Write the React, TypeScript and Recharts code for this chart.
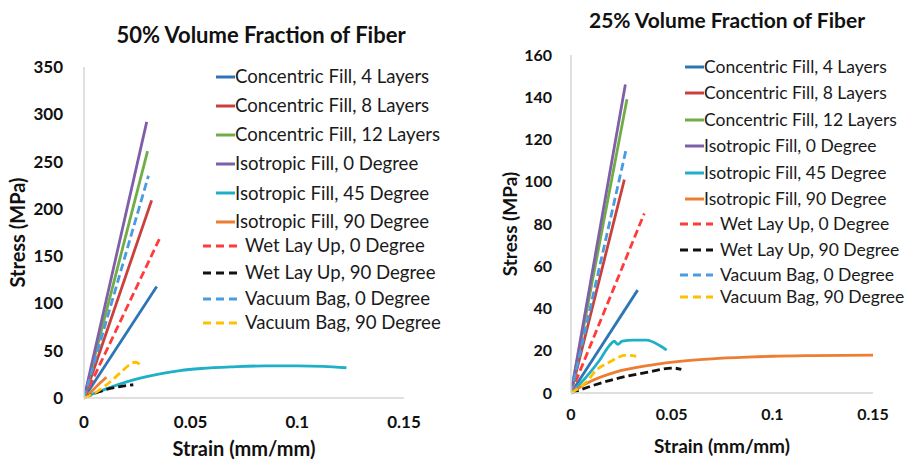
import { LineChart, Line, XAxis, YAxis, Legend, Label } from 'recharts';

const FONT = 'Lato, "Open Sans", "DejaVu Sans", sans-serif';

const seriesNames = [
  'Concentric Fill, 4 Layers',
  'Concentric Fill, 8 Layers',
  'Concentric Fill, 12 Layers',
  'Isotropic Fill, 0 Degree',
  'Isotropic Fill, 45 Degree',
  'Isotropic Fill, 90 Degree',
  'Wet Lay Up, 0 Degree',
  'Wet Lay Up, 90 Degree',
  'Vacuum Bag, 0 Degree',
  'Vacuum Bag, 90 Degree',
];
const seriesColors = ['#2e75b6', '#c8413c', '#70ad47', '#7f5fa8', '#1fb0c8', '#ed7d31', '#ff3b3b', '#111111', '#4a9be0', '#ffc000'];
const seriesDashed = [false, false, false, false, false, false, true, true, true, true];

const strainTicks = [0, 0.05, 0.1, 0.15];
const stressTicks50 = [0, 50, 100, 150, 200, 250, 300, 350];
const stressTicks25 = [0, 20, 40, 60, 80, 100, 120, 140, 160];

// 50% volume fraction, [strain, stress]
const concentric4_50 = [[0, 0], [0.0341, 118]];
const concentric8_50 = [[0, 0], [0.0317, 209]];
const concentric12_50 = [[0, 0], [0.0298, 261]];
const isotropic0_50 = [[0, 0], [0.0294, 292]];
const isotropic45_50 = [[0, 0], [0.005, 5], [0.0114, 10.5], [0.02, 17], [0.0263, 21], [0.0356, 25.6], [0.045, 29], [0.055, 31.2], [0.07, 33], [0.085, 34], [0.1, 34], [0.112, 33.5], [0.123, 32]];
const isotropic90_50 = [[0, 0], [0.004, 8], [0.0075, 15.8], [0.0105, 22]];
const wetLayUp0_50 = [[0, 0], [0.0353, 168]];
const wetLayUp90_50 = [[0, 0], [0.003, 3], [0.0075, 7], [0.0169, 12], [0.0231, 14]];
const vacuumBag0_50 = [[0, 0], [0.0302, 235]];
const vacuumBag90_50 = [[0, 0], [0.006, 6.5], [0.0106, 14], [0.0169, 26.4], [0.0216, 35.5], [0.0239, 37.8], [0.0255, 36.5], [0.0268, 33]];

// 25% volume fraction
const concentric4_25 = [[0, 0], [0.0331, 48.7]];
const concentric8_25 = [[0, 0], [0.0265, 101]];
const concentric12_25 = [[0, 0], [0.0278, 139]];
const isotropic0_25 = [[0, 0], [0.027, 146]];
const isotropic45_25 = [[0, 0], [0.0076, 7.6], [0.0142, 15.5], [0.0192, 22.6], [0.0215, 24.5], [0.0232, 23], [0.0255, 24.5], [0.0308, 25], [0.0374, 25], [0.044, 22.5], [0.0475, 20.3]];
const isotropic90_25 = [[0, 0], [0.0076, 4.5], [0.0225, 10], [0.039, 13.1], [0.0564, 15.2], [0.07, 16.2], [0.0874, 17], [0.1, 17.4], [0.12, 17.7], [0.15, 17.9]];
const wetLayUp0_25 = [[0, 0], [0.0364, 85]];
const wetLayUp90_25 = [[0, 0], [0.0076, 2.5], [0.0225, 6.8], [0.039, 10], [0.0507, 11.8], [0.0548, 11.2]];
const vacuumBag0_25 = [[0, 0], [0.0273, 115]];
const vacuumBag90_25 = [[0, 0], [0.0076, 5.2], [0.0126, 10.8], [0.0192, 14.7], [0.0275, 17.9], [0.0324, 17.4]];

const curves50 = [concentric4_50, concentric8_50, concentric12_50, isotropic0_50, isotropic45_50, isotropic90_50, wetLayUp0_50, wetLayUp90_50, vacuumBag0_50, vacuumBag90_50];
const curves25 = [concentric4_25, concentric8_25, concentric12_25, isotropic0_25, isotropic45_25, isotropic90_25, wetLayUp0_25, wetLayUp90_25, vacuumBag0_25, vacuumBag90_25];

type Panel = {
  title: string;
  curves: number[][][];
  yTicks: number[];
  left: number;
  width: number;
  top: number;
  right: number;
  yAxisWidth: number;
  xAxisHeight: number;
  tickFont: number;
  xTickMargin: number;
  yTickMargin: number;
  labelFont: number;
  yLabelDx: number;
  titleFont: number;
  titleX: number;
  titleBase: number;
  legendFont: number;
  legendRows: number[];
  solidLine: number[];
  dashLine: number[];
  solidText: number;
  dashText: number;
};

const panels: Panel[] = [
  {
    title: '50% Volume Fraction of Fiber', curves: curves50, yTicks: stressTicks50,
    left: 0, width: 460, top: 67, right: 56, yAxisWidth: 84, xAxisHeight: 64,
    tickFont: 17, xTickMargin: 18, yTickMargin: 21, labelFont: 20, yLabelDx: -24,
    titleFont: 22, titleX: 261, titleBase: 44,
    legendFont: 18.6, legendRows: [76.7, 105.7, 135, 164, 193.3, 221.7, 246, 273, 299, 323],
    solidLine: [216, 235], dashLine: [203, 238], solidText: 235, dashText: 245,
  },
  {
    title: '25% Volume Fraction of Fiber', curves: curves25, yTicks: stressTicks25,
    left: 460, width: 453, top: 55, right: 40, yAxisWidth: 111, xAxisHeight: 69,
    tickFont: 16, xTickMargin: 16, yTickMargin: 19, labelFont: 19, yLabelDx: -5,
    titleFont: 21, titleX: 267, titleBase: 28,
    legendFont: 17.5, legendRows: [67, 93, 120, 146, 173, 199, 224, 250, 275, 297],
    solidLine: [225, 244], dashLine: [220, 253], solidText: 244, dashText: 260,
  },
];

function PanelLegend({ p }: { p: Panel }) {
  return (
    <div style={{ position: 'relative', width: p.width, height: 462, fontFamily: FONT, color: '#1a1a1a' }}>
      {seriesNames.map((name, i) => {
        const dashed = seriesDashed[i];
        const [x1, x2] = dashed ? p.dashLine : p.solidLine;
        const y = p.legendRows[i];
        return (
          <div key={name}>
            <svg style={{ position: 'absolute', left: x1, top: y - 3 }} width={x2 - x1} height={6}>
              <line x1={0} y1={3} x2={x2 - x1} y2={3} stroke={seriesColors[i]} strokeWidth={3} strokeDasharray={dashed ? '8 5' : undefined} />
            </svg>
            <span style={{ position: 'absolute', left: dashed ? p.dashText : p.solidText, top: y - p.legendFont * 0.63, fontSize: p.legendFont, lineHeight: 1.2, whiteSpace: 'nowrap' }}>
              {name}
            </span>
          </div>
        );
      })}
    </div>
  );
}

function StressStrainPanel({ p }: { p: Panel }) {
  const tick = { fill: '#111', fontSize: p.tickFont, fontWeight: 700, fontFamily: FONT };
  const axisLine = { stroke: '#d6d6d6', strokeWidth: 1.5 };
  return (
    <div style={{ position: 'absolute', left: p.left, top: 0, width: p.width, height: 462 }}>
      <div style={{ position: 'absolute', left: p.titleX - 200, width: 400, top: p.titleBase - p.titleFont * 0.99, textAlign: 'center', fontFamily: FONT, fontWeight: 700, fontSize: p.titleFont, lineHeight: 1.2, color: '#111' }}>
        {p.title}
      </div>
      <LineChart width={p.width} height={462} margin={{ top: p.top, right: p.right, left: 0, bottom: 0 }}>
        <XAxis type="number" dataKey="x" domain={[0, 0.15]} ticks={strainTicks} allowDataOverflow height={p.xAxisHeight}
          tick={tick} tickLine={false} tickSize={0} tickMargin={p.xTickMargin} axisLine={axisLine}>
          <Label value="Strain (mm/mm)" position="center" dy={19} style={{ fill: '#111', fontSize: p.labelFont, fontWeight: 700, fontFamily: FONT }} />
        </XAxis>
        <YAxis type="number" domain={[0, p.yTicks[p.yTicks.length - 1]]} ticks={p.yTicks} width={p.yAxisWidth}
          tick={tick} tickLine={false} tickSize={0} tickMargin={p.yTickMargin} axisLine={axisLine}>
          <Label value="Stress (MPa)" position="center" angle={-90} dx={p.yLabelDx} style={{ fill: '#111', fontSize: p.labelFont, fontWeight: 700, fontFamily: FONT, textAnchor: 'middle' }} />
        </YAxis>
        <Legend layout="vertical" align="center" verticalAlign="middle" wrapperStyle={{ left: 0, top: 0, width: p.width, height: 462, pointerEvents: 'none' }}
          content={() => <PanelLegend p={p} />} />
        {p.curves.map((c, i) => (
          <Line key={seriesNames[i]} name={seriesNames[i]} data={c.map(([x, y]) => ({ x, y }))} dataKey="y" type="monotone"
            stroke={seriesColors[i]} strokeWidth={2.8} strokeDasharray={seriesDashed[i] ? '8 4' : undefined}
            dot={false} activeDot={false} isAnimationActive={false} />
        ))}
      </LineChart>
    </div>
  );
}

export default function App() {
  return (
    <div style={{ position: 'absolute', left: 0, top: 0, width: 913, height: 462, background: '#fff', overflow: 'hidden' }}>
      {panels.map((p) => (
        <StressStrainPanel key={p.title} p={p} />
      ))}
    </div>
  );
}
